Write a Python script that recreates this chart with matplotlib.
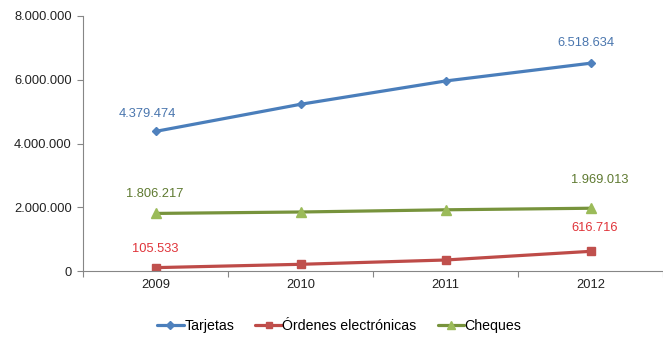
import matplotlib
matplotlib.use("Agg")
import matplotlib.pyplot as plt
from matplotlib.ticker import FuncFormatter, FixedLocator

plt.rcParams['font.family'] = ['Liberation Sans', 'DejaVu Sans']

years = ["2009", "2010", "2011", "2012"]
tarjetas = [4379474, 5230000, 5961000, 6518634]
ordenes = [105533, 210000, 345000, 616716]
cheques = [1806217, 1851000, 1920000, 1969013]

# name, values, line colour, marker colour, marker, label colour, marker size,
# label offsets (first, last) in points
series = [
    ("Tarjetas", tarjetas, "#4A7EBB", "#4F81BD", "D", "#4A76AE", 4.5,
     [(-5.5, 12.2), (-3.2, 14.4)]),
    ("Órdenes electrónicas", ordenes, "#BE4B48", "#C0504D", "s", "#E0343A", 5.5,
     [(0, 13.7), (2.9, 16.5)]),
    ("Cheques", cheques, "#77933C", "#9BBB59", "^", "#5F7A31", 6.5,
     [(-0.7, 13.7), (6.5, 20.2)]),
]

FS = 9.3

fig = plt.figure(figsize=(6.63, 3.39), dpi=100)
ax = fig.add_axes([83 / 663, 68 / 339, 580 / 663, 255 / 339])

x = list(range(len(years)))
for name, vals, lc, mc, mk, tc, ms, offs in series:
    ax.plot(x, vals, color=lc, lw=2.3, marker=mk, markersize=ms,
            markerfacecolor=mc, markeredgecolor=mc, label=name,
            solid_capstyle="round")
    for i, off in zip((0, len(vals) - 1), offs):
        ax.annotate(f"{vals[i]:,}".replace(",", "."), (x[i], vals[i]),
                    xytext=off, textcoords="offset points",
                    ha="center", va="center", color=tc, fontsize=FS)

ax.set_xlim(-0.5, len(years) - 0.5)
ax.set_ylim(0, 8000000)
ax.set_yticks([0, 2000000, 4000000, 6000000, 8000000])
ax.yaxis.set_major_formatter(FuncFormatter(lambda v, p: f"{int(v):,}".replace(",", ".")))

ax.set_xticks(x)
ax.set_xticklabels(years)
ax.xaxis.set_minor_locator(FixedLocator([-0.5, 0.5, 1.5, 2.5, 3.5]))
ax.tick_params(axis="x", which="major", length=0, pad=6, labelsize=FS, colors="#222222")
ax.tick_params(axis="x", which="minor", length=4, color="#868686", width=0.8)
ax.tick_params(axis="y", length=4, color="#868686", width=0.8, labelsize=FS,
               labelcolor="#222222", pad=4)

for s in ("top", "right"):
    ax.spines[s].set_visible(False)
for s in ("left", "bottom"):
    ax.spines[s].set_color("#868686")
    ax.spines[s].set_linewidth(0.8)

leg = fig.legend(loc="center", bbox_to_anchor=(0.5 + 8 / 663, 12 / 339 + 0.003), ncol=3,
                 frameon=False, fontsize=10.2, handlelength=1.85, handletextpad=0.05,
                 columnspacing=1.5, markerscale=0.9)

fig.savefig("out.png", dpi=100)
